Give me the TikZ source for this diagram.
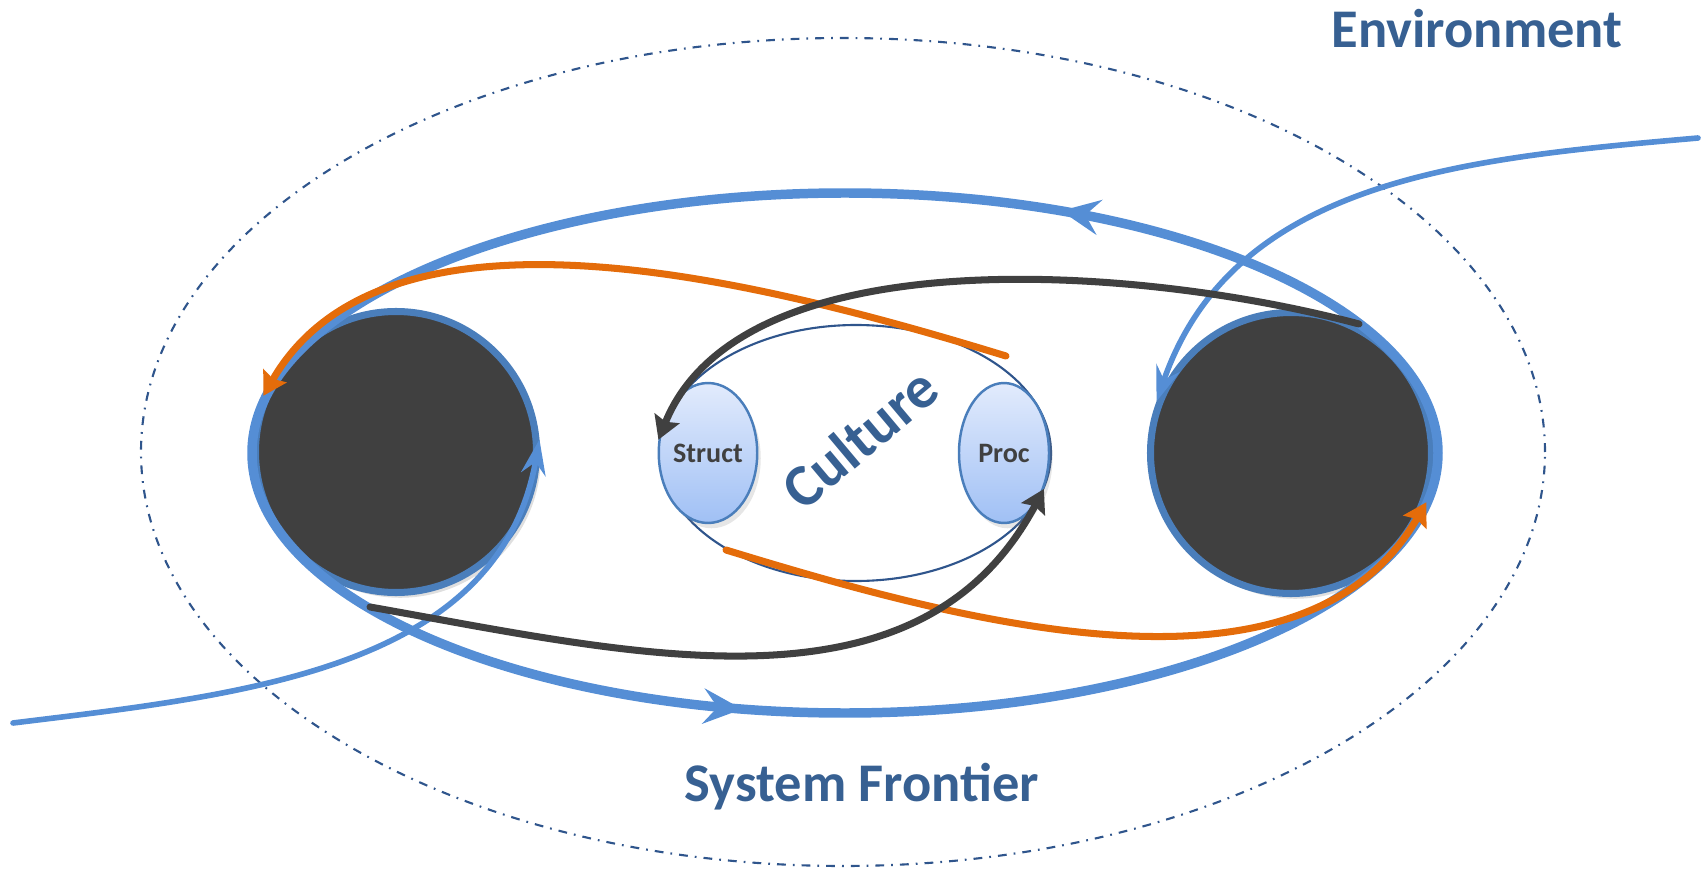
\documentclass[tikz,border=0pt]{standalone}
\usepackage{fontspec}
\setmainfont{Carlito}
\usepackage{xcolor}
\usetikzlibrary{arrows.meta,shapes.geometric,shadows,decorations.markings}
\definecolor{myblue}{RGB}{85,142,213}
\definecolor{myrim}{RGB}{74,126,187}
\definecolor{mydark}{RGB}{64,64,64}
\definecolor{myorange}{RGB}{228,108,10}
\definecolor{mytitle}{RGB}{55,96,146}
\definecolor{myline}{RGB}{47,85,140}
\definecolor{mylight}{RGB}{226,235,252}
\definecolor{mymid}{RGB}{160,192,245}

\begin{document}
\begin{tikzpicture}[
  hole/.style={circle,draw=myrim,line width=2pt,fill=mydark,minimum size=2.81cm,inner sep=0pt,
    drop shadow={opacity=0.25,shadow xshift=1.2pt,shadow yshift=-1.5pt}},
  part/.style={ellipse,draw=myrim,line width=0.7pt,top color=mylight,bottom color=mymid,
    minimum width=0.9cm,minimum height=1.4cm,inner sep=0pt,text=mydark,
    font=\fontsize{8}{9}\selectfont\bfseries,
    drop shadow={opacity=0.2,shadow xshift=1pt,shadow yshift=-1.5pt}},
  title/.style={text=mytitle,font=\fontsize{15.5}{18}\selectfont\bfseries},
  flow/.style={line width=2pt,line cap=round,-{Stealth[length=6.5pt,width=7.5pt,inset=1pt]}},
  feed/.style={myblue,line width=1.6pt,line cap=round,-{Stealth[length=10pt,width=7pt,inset=3.5pt]}},
  loopmark/.style={decoration={markings,
    mark=at position 0.172 with {\arrow{Stealth[length=11pt,width=10pt,inset=4pt]}},
    mark=at position 0.713 with {\arrow{Stealth[length=11pt,width=10pt,inset=4pt]}}},
    postaction={decorate}}]
\useasboundingbox (0,0) rectangle (17.05,8.71);
% frontier
\draw[myline,line width=0.6pt,dash pattern=on 2.5pt off 2pt on 0.5pt off 2pt] (8.43,4.19) ellipse (7.02 and 4.14);
\node[title] (env) at (14.77,8.42) {Environment};
\node[title] (front) at (8.62,0.84) {System Frontier};
% the two holes and the culture
\node[hole] (lcirc) at (3.96,4.19) {};
\node[hole] (rcirc) at (12.91,4.18) {};
\node[ellipse,draw=myline,line width=0.6pt,minimum width=3.9cm,minimum height=2.56cm] (culture) at (8.56,4.18) {};
\node[part] (struct) at (7.08,4.18) {Struct};
\node[part] (proc) at (10.04,4.18) {Proc};
\node[text=mytitle,rotate=40,font=\fontsize{17}{19}\selectfont\bfseries] (cult) at (8.60,4.33) {Culture};
% big loop
\draw[myblue,line width=2.7pt,loopmark] (8.45,4.18) ellipse (5.93 and 2.60);
% free ends
\coordinate (or1) at (10.06,5.15);
\coordinate (or2) at (7.26,3.21);
\coordinate (dk1) at (13.59,5.47);
\coordinate (dk2) at (3.70,2.64);
\coordinate (envin) at (0.13,1.48);
\coordinate (envout) at (16.98,7.33);
% draw the arrows
\draw[feed] (envin) to [out=7,in=260] (lcirc.5);
\draw[feed] (envout) to [out=185,in=71] (rcirc.159);
\draw[myorange,flow] (or1) to [out=163,in=60,looseness=0.85] (lcirc.157);
\draw[myorange,flow] (or2) to [out=-17,in=240,looseness=0.9] (rcirc.-20);
\draw[mydark,flow] (dk1) to [out=165,in=68,looseness=0.8] (struct.165);
\draw[mydark,flow] (dk2) to [out=-10,in=242] (proc.-42);
\end{tikzpicture}
\end{document}
